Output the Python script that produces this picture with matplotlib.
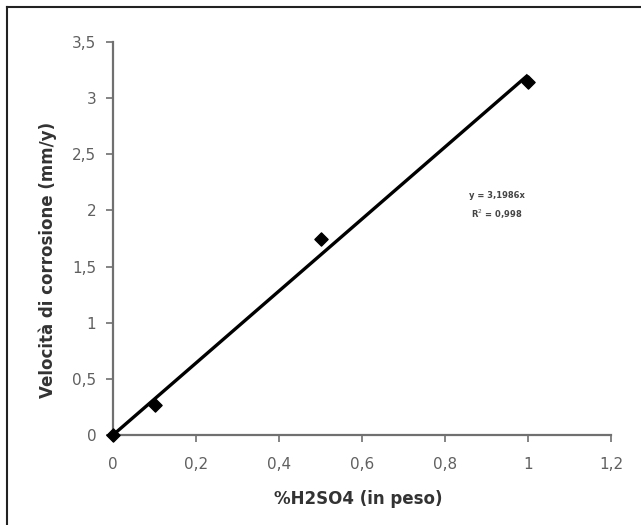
import numpy as np
import matplotlib
matplotlib.use("Agg")
import matplotlib.pyplot as plt
from matplotlib.lines import Line2D

x_values = [0.0, 0.1, 0.5, 1.0]
y_values = [0.0, 0.27, 1.745, 3.14]
x_ticks = [0, 0.2, 0.4, 0.6, 0.8, 1.0, 1.2]
x_tick_labels = ["0", "0,2", "0,4", "0,6", "0,8", "1", "1,2"]
y_ticks = [0, 0.5, 1, 1.5, 2, 2.5, 3, 3.5]
y_tick_labels = ["0", "0,5", "1", "1,5", "2", "2,5", "3", "3,5"]
equation_text = "y = 3,1986x\nR$^2$ = 0,998"

plt.rcParams['font.family'] = ['DejaVu Sans']

W, H = 641, 525
fig = plt.figure(figsize=(W/100, H/100), dpi=100)
L, R, T, B = 113, 611, 42, 435
ax = fig.add_axes([L/W, 1-B/H, (R-L)/W, (B-T)/H])

xv = np.array(x_values); yv = np.array(y_values)
slope = np.sum(xv*yv)/np.sum(xv*xv)
xl = np.array([0.0, 1.0])
ax.plot(xl, slope*xl, color='black', lw=2.4, solid_capstyle='butt', clip_on=False)
ax.scatter(xv, yv, marker='D', s=45, color='black', zorder=3, clip_on=False)

ax.set_xlim(0, 1.2)
ax.set_ylim(0, 3.5)
ax.set_xticks(x_ticks)
ax.set_xticklabels(x_tick_labels)
ax.set_yticks(y_ticks)
ax.set_yticklabels(y_tick_labels)
for s in ['top', 'right']:
    ax.spines[s].set_visible(False)
for s in ['left', 'bottom']:
    ax.spines[s].set_color('#707070')
    ax.spines[s].set_linewidth(1.6)
ax.tick_params(colors='#707070', labelcolor='#606060', labelsize=11, length=5, width=1.2)
ax.tick_params(axis='x', pad=11)
ax.tick_params(axis='y', pad=7)
ax.set_xlabel("%H2SO4 (in peso)", fontsize=12, fontweight='bold', color='#333333')
ax.set_ylabel("Velocità di corrosione (mm/y)", fontsize=12, fontweight='bold', color='#333333')
ax.xaxis.set_label_coords((358-L)/(R-L), (B-490)/(B-T))
ax.yaxis.set_label_coords((57-L)/(R-L), (B-260)/(B-T))
ax.text(0.925, 2.04, equation_text, fontsize=6, fontweight='bold', ha='center', va='center',
        color='#444444', linespacing=1.7)

fig.add_artist(Line2D([7/W, 1], [1-7/H, 1-7/H], color='#222222', lw=1.5, transform=fig.transFigure))
fig.add_artist(Line2D([7/W, 7/W], [0, 1-7/H], color='#222222', lw=1.5, transform=fig.transFigure))

fig.savefig("out.png", dpi=100)
